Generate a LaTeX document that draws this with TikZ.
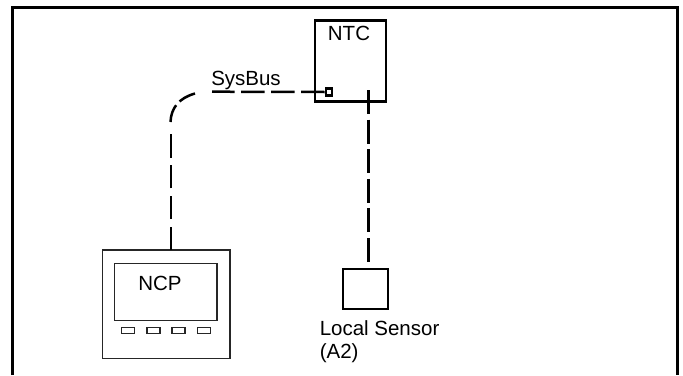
\documentclass[tikz,border=0pt]{standalone}
\usepackage{fontspec}
\setmainfont{Liberation Sans}
\usetikzlibrary{positioning}
\begin{document}
\begin{tikzpicture}[x=1pt, y=-1pt, node distance=20pt,
  box/.style={rectangle, draw, line width=2.4pt, inner sep=0pt},
  thinbox/.style={rectangle, draw=black!85, line width=1.4pt, inner sep=0pt},
  btn/.style={thinbox, minimum width=13pt, minimum height=6.1pt},
  bus/.style={line width=2.5pt},
  label/.style={inner sep=0pt, font=\fontsize{20.5pt}{23pt}\selectfont, align=left}]
  \useasboundingbox (0,0) rectangle (683,375);
  \node[coordinate] (frameBL) at (12.5,375) {};
  \node[coordinate] (frameBR) at (677,375) {};
  \draw[line width=3pt] (frameBL) |- (677,7) -- (frameBR);

  \node[box, minimum width=71pt, minimum height=81pt] (ntc) at (350.7,60.8) {};
  \node[label] (ntclabel) at (349,33.5) {NTC};
  \node[box, line width=2.6pt, minimum width=6pt, minimum height=7.5pt] (port) at (329,92) {};
  \node[box, minimum width=45.5pt, minimum height=40.5pt] (sensor) at (365.5,289) {};
  \node[label, below right=10pt and -22pt of sensor.south west, anchor=north west] (sensorlabel) {Local Sensor\\(A2)};

  \node[thinbox, minimum width=127.8pt, minimum height=108.8pt] (ncp) at (166.2,304.3) {};
  \node[thinbox, minimum width=102.5pt, minimum height=57.1pt] (screen) at (165.8,291.8) {};
  \node[label] (ncplabel) at (160,283) {NCP};
  \node[btn] (btna) at (128,330.3) {};
  \node[btn, right of=btna, node distance=25.3pt] (btnb) {};
  \node[btn, right of=btnb, node distance=25.3pt] (btnc) {};
  \node[btn, right of=btnc, node distance=25.3pt] (btnd) {};

  \node[coordinate] (sensortap) at (368.4,90) {};
  \node[coordinate] (sensorend) at (368.4,262) {};
  \node[coordinate] (busend) at (212,91.7) {};
  \node[coordinate] (ncptap) at (171,250) {};
  \node[coordinate] (riser) at (171,134) {};
  \node[coordinate] (bendstart) at (170.5,122) {};
  \node[coordinate] (buscurve) at (195,93.5) {};
  \node[label] (sysbus) at (246,80) {SysBus};
  \draw[bus, dash pattern=on 23.5pt off 6.5pt] (port.west) -- (busend);
  \draw[bus, dash pattern=on 24pt off 5.6pt] (sensortap) -- (sensorend);
  \draw[bus, dash pattern=on 23.5pt off 7.3pt] (ncptap) -- (riser);
  \draw[bus, dash pattern=on 18pt off 5pt] (bendstart) .. controls (171,108) and (179,98) .. (buscurve);
\end{tikzpicture}
\end{document}
